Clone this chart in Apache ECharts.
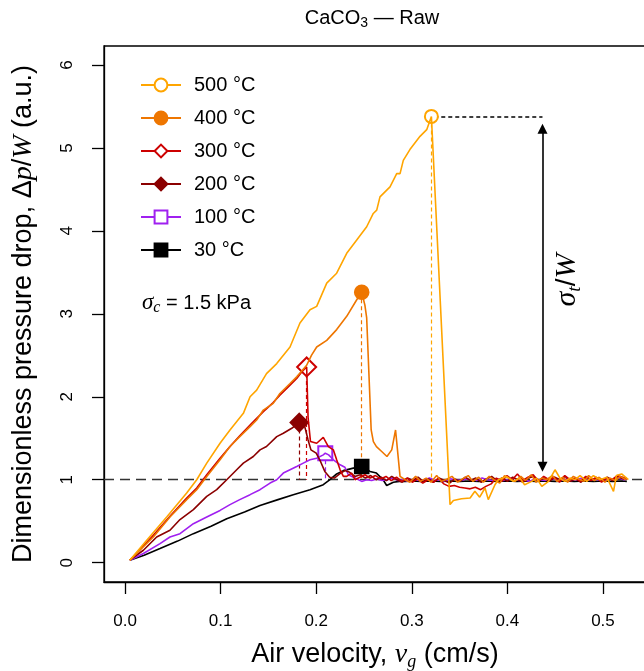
<!DOCTYPE html>
<html><head><meta charset="utf-8">
<script src="https://cdn.jsdelivr.net/npm/echarts@6/dist/echarts.min.js"></script>
<style>html,body{margin:0;padding:0;background:#fff}#c{width:644px;height:671px}</style>
</head><body><div id="c"></div>
<script>
// ---------- data ----------
const xTicks = [0, 0.1, 0.2, 0.3, 0.4, 0.5];
const yTicks = [0, 1, 2, 3, 4, 5, 6];
const names = ['500 °C', '400 °C', '300 °C', '200 °C', '100 °C', '30 °C'];
const colors = ['#FFA500', '#EE7600', '#CD0000', '#8B0000', '#A020F0', '#000000'];
const symbols = ['emptyCircle', 'circle', 'emptyDiamond', 'diamond', 'emptyRect', 'rect'];
const peaks = [[0.3205, 5.38], [0.2476, 3.26], [0.19, 2.36], [0.1823, 1.69], [0.2095, 1.32], [0.2476, 1.16]];
const baseline = 1;
const arrowX = 0.4367, arrowTop = 5.23, arrowBottom = 1.157, dotStartX = 0.3235;

const s500 = [[0.005,0.03],[0.0227,0.27],[0.0436,0.55],[0.0645,0.84],[0.075,1.0],[0.0855,1.2],[0.0994,1.44],[0.1098,1.6],[0.1238,1.8],[0.1308,2.0],[0.1377,2.08],[0.148,2.28],[0.1587,2.4],[0.1726,2.6],[0.183,2.89],[0.1935,3.05],[0.2005,3.09],[0.211,3.37],[0.2214,3.49],[0.2319,3.73],[0.2424,3.89],[0.2528,4.05],[0.2597,4.21],[0.2633,4.25],[0.2667,4.41],[0.2772,4.53],[0.2842,4.69],[0.2877,4.69],[0.2911,4.85],[0.298,4.98],[0.3086,5.14],[0.3156,5.22],[0.3205,5.38],
[0.340,0.70],[0.3435,0.75],[0.352,0.77],[0.361,0.78],[0.366,0.86],[0.371,0.79],[0.3766,0.90],[0.380,0.76],[0.387,0.94],[0.3905,1.0],[0.399,1.04],[0.406,0.98],[0.413,1.02],[0.418,0.94],[0.4254,0.98],[0.4306,1.02],[0.436,0.92],[0.443,0.98],[0.4498,1.12],[0.455,1.02],[0.460,0.98],[0.4655,1.02],[0.471,1.0],[0.476,1.05],[0.483,0.98],[0.490,1.05],[0.497,1.0],[0.504,1.03],[0.511,0.86],[0.514,1.05],[0.5195,1.07],[0.5265,1.0]];

const s400 = [[0.005,0.03],[0.0296,0.31],[0.047,0.55],[0.0645,0.76],[0.075,0.88],[0.0855,1.04],[0.0994,1.24],[0.1098,1.4],[0.12,1.52],[0.1308,1.64],[0.1377,1.72],[0.1447,1.84],[0.155,1.92],[0.162,2.04],[0.1726,2.16],[0.1796,2.24],[0.19,2.38],[0.195,2.5],[0.2005,2.6],[0.211,2.68],[0.2214,2.81],[0.2319,2.97],[0.2424,3.17],[0.2476,3.26],[0.251,3.1],[0.2528,2.95],[0.2575,1.6],[0.2598,1.46],[0.263,1.4],[0.2685,1.34],[0.274,1.28],[0.279,1.36],[0.283,1.6],[0.2877,1.04],
[0.293,1.0],[0.298,0.97],[0.304,1.04],[0.309,0.98],[0.315,1.02],[0.32,0.97],[0.326,1.05],[0.331,0.98],[0.337,1.01],[0.342,1.04],[0.348,0.97],[0.353,1.01],[0.359,1.05],[0.364,0.98],[0.37,1.03],[0.375,0.97],[0.381,1.04],[0.386,1.0],[0.392,0.96],[0.397,1.05],[0.403,1.01],[0.408,0.98],[0.414,1.04],[0.419,0.99],[0.425,1.06],[0.43,0.97],[0.436,1.02],[0.441,1.0],[0.447,1.05],[0.452,0.98],[0.458,1.03],[0.463,0.97],[0.469,1.04],[0.474,1.01],[0.48,0.98],[0.485,1.05],[0.491,0.99],[0.496,1.03],[0.502,0.97],[0.507,1.02],[0.513,0.99],[0.518,1.04],[0.524,1.0]];

const s300 = [[0.005,0.03],[0.0296,0.33],[0.047,0.56],[0.0645,0.78],[0.075,0.9],[0.0855,1.06],[0.0994,1.26],[0.1098,1.4],[0.12,1.53],[0.1308,1.66],[0.1377,1.74],[0.1447,1.82],[0.155,1.93],[0.162,2.02],[0.1726,2.14],[0.1796,2.22],[0.1848,2.3],[0.19,2.36],[0.1915,1.75],[0.194,1.46],[0.2005,1.44],[0.2074,1.51],[0.2127,1.4],[0.2179,1.36],[0.2214,1.24],[0.225,1.12],[0.2284,1.04],[0.2319,1.04],[0.237,1.08],[0.2406,1.0],
[0.2456,1.03],[0.251,1.06],[0.2565,1.02],[0.262,1.05],[0.2675,1.01],[0.273,1.04],[0.2785,0.99],[0.284,1.03],[0.2895,0.98],[0.295,1.02],[0.3005,0.97],[0.306,1.01],[0.3115,0.96],[0.317,1.0],[0.3225,0.97],[0.328,1.02],[0.3335,0.95],[0.339,0.92],[0.3445,0.93],[0.35,0.91],[0.3555,0.9],[0.361,0.89],[0.3665,0.91],[0.372,0.88],[0.3775,0.92],[0.383,0.95],[0.3885,1.02],[0.394,0.98],[0.3995,1.05],[0.405,1.0],[0.4105,1.07],[0.416,0.99],[0.4215,1.03],[0.427,1.06],[0.4325,0.98],[0.438,1.04],[0.4435,1.0],[0.449,1.03],[0.4545,0.97],[0.46,1.05],[0.4655,1.0],[0.471,1.02],[0.4765,0.98],[0.482,1.04],[0.4875,0.99],[0.493,1.03],[0.4985,0.97],[0.504,1.02],[0.5095,1.0],[0.515,1.05],[0.5205,1.03],[0.525,1.01]];

const s200 = [[0.005,0.03],[0.0192,0.15],[0.0331,0.31],[0.047,0.39],[0.0575,0.52],[0.0715,0.64],[0.0855,0.8],[0.0959,0.88],[0.1064,1.0],[0.1168,1.12],[0.1238,1.2],[0.1342,1.28],[0.1412,1.36],[0.148,1.4],[0.1587,1.52],[0.1656,1.56],[0.1744,1.62],[0.1823,1.69],[0.188,1.64],[0.1915,1.48],[0.1945,1.36],[0.2,1.32],[0.2045,1.22],[0.209,1.1],[0.214,1.03],[0.219,1.02],[0.2245,1.07],[0.23,1.11],[0.235,1.09],
[0.2405,1.04],[0.246,1.06],[0.2515,1.02],[0.257,1.05],[0.2625,1.0],[0.268,1.03],[0.2735,0.99],[0.279,1.04],[0.2845,1.0],[0.29,0.97],[0.2955,1.02],[0.301,0.99],[0.3065,1.03],[0.312,0.98],[0.3175,1.01],[0.323,0.97],[0.3285,1.02],[0.334,0.99],[0.3395,0.96],[0.345,1.01],[0.3505,0.98],[0.356,1.03],[0.3615,0.99],[0.367,1.02],[0.3725,0.97],[0.378,1.01],[0.3835,1.04],[0.389,0.99],[0.3945,1.02],[0.4,0.98],[0.4055,1.03],[0.411,1.0],[0.4165,0.97],[0.422,1.02],[0.4275,1.04],[0.433,0.99],[0.4385,1.02],[0.444,0.98],[0.4495,1.03],[0.455,1.0],[0.4605,1.04],[0.466,0.98],[0.4715,1.01],[0.477,0.97],[0.4825,1.03],[0.488,1.0],[0.4935,1.02],[0.499,0.98],[0.5045,1.03],[0.51,0.99],[0.5155,1.04],[0.521,1.01],[0.525,1.02]];

const s100 = [[0.005,0.03],[0.0192,0.11],[0.0366,0.23],[0.047,0.31],[0.0575,0.35],[0.0715,0.47],[0.0855,0.55],[0.0994,0.63],[0.1098,0.7],[0.12,0.76],[0.1308,0.82],[0.1412,0.88],[0.1517,0.96],[0.1587,1.0],[0.1656,1.08],[0.1726,1.12],[0.1796,1.16],[0.1865,1.2],[0.1935,1.24],[0.2005,1.26],[0.2074,1.3],[0.2095,1.32],[0.213,1.3],[0.218,1.24],[0.225,1.18],[0.23,1.15],[0.2336,1.06],[0.2406,1.02],[0.2476,0.98],[0.2528,1.0],
[0.258,0.99],[0.2635,1.01],[0.269,0.99],[0.2745,1.0],[0.28,1.02],[0.2855,0.99],[0.291,1.0],[0.2965,0.98],[0.302,1.01],[0.3075,0.99],[0.313,1.0],[0.3185,1.02],[0.324,0.99],[0.3295,1.0],[0.335,0.98],[0.3405,1.01],[0.346,1.0],[0.3515,0.99],[0.357,1.01],[0.3625,1.0],[0.368,0.99],[0.3735,1.02],[0.379,1.0],[0.3845,0.99],[0.39,1.01],[0.3955,0.99],[0.401,1.0],[0.4065,1.02],[0.412,0.99],[0.4175,1.0],[0.423,0.98],[0.4285,1.01],[0.434,1.0],[0.4395,0.99],[0.445,1.02],[0.4505,1.0],[0.456,0.99],[0.4615,1.01],[0.467,0.99],[0.4725,1.0],[0.478,1.02],[0.4835,0.99],[0.489,1.01],[0.4945,1.0],[0.5,0.99],[0.5055,1.01],[0.511,1.0],[0.5165,1.02],[0.522,1.0],[0.525,1.01]];

const s30 = [[0.005,0.03],[0.02,0.09],[0.0366,0.17],[0.055,0.26],[0.0715,0.35],[0.09,0.44],[0.1064,0.53],[0.125,0.61],[0.1412,0.69],[0.16,0.76],[0.176,0.82],[0.1935,0.88],[0.2074,0.94],[0.2144,1.0],[0.2214,1.07],[0.2284,1.11],[0.2388,1.14],[0.2476,1.16],[0.2563,1.1],[0.263,1.08],[0.27,1.0],[0.2737,0.93],[0.2807,0.97],
[0.287,0.98],[0.2935,0.98],[0.3,0.985],[0.31,0.98],[0.32,0.985],[0.33,0.98],[0.34,0.985],[0.35,0.98],[0.36,0.985],[0.37,0.98],[0.38,0.985],[0.39,0.98],[0.4,0.985],[0.41,0.98],[0.42,0.985],[0.43,0.98],[0.44,0.985],[0.45,0.98],[0.46,0.985],[0.47,0.98],[0.48,0.985],[0.49,0.98],[0.5,0.985],[0.51,0.98],[0.52,0.985],[0.525,0.98]];

const seriesData = [s500, s400, s300, s200, s100, s30];
const markerSizes = [13, 14, 19, 18, 14, 14];

// ---------- chart ----------
const F = 'Liberation Sans';
const FS = 'Liberation Serif';
const chart = echarts.init(document.getElementById('c'), null, {renderer: 'canvas'});

const series = [];
for (let k = seriesData.length - 1; k >= 0; k--) {
  const col = colors[k];
  const s = {
    type: 'line', name: names[k], data: seriesData[k],
    showSymbol: false, symbol: symbols[k], symbolSize: markerSizes[k],
    lineStyle: {color: col, width: 1.6},
    itemStyle: {color: col, borderColor: col, borderWidth: 1.6},
    emphasis: {disabled: true},
    z: 10 + (6 - k),
    markPoint: {
      symbol: symbols[k], symbolSize: markerSizes[k], silent: true,
      itemStyle: {color: col, borderColor: col, borderWidth: 1.6},
      label: {show: false},
      data: [{coord: peaks[k]}]
    },
    markLine: {
      symbol: 'none', silent: true, animation: false,
      label: {show: false},
      lineStyle: {color: col, type: [4, 3], width: 1.2},
      data: [[{coord: peaks[k]}, {coord: [peaks[k][0], baseline]}]]
    }
  };
  if (k === 5) {
    s.markLine.data.push({yAxis: baseline, lineStyle: {color: '#333', type: [10, 6], width: 1.3}});
  }
  if (k === 0) {
    s.markLine.data.push([{coord: [dotStartX, peaks[0][1]], lineStyle: {color: '#000', type: [4, 3], width: 1.6}}, {coord: [arrowX, peaks[0][1]]}]);
    s.markLine.data.push([
      {coord: [arrowX, arrowTop], symbol: 'triangle', symbolSize: 10, lineStyle: {color: '#000', type: 'solid', width: 1.6}},
      {coord: [arrowX, arrowBottom], symbol: 'triangle', symbolSize: 10}
    ]);
    s.markLine.itemStyle = {color: '#000'};
  }
  series.push(s);
}

const rich = {
  n: {fontSize: 27, fontFamily: F, color: '#000', lineHeight: 32},
  i: {fontSize: 28, fontFamily: FS, fontStyle: 'italic', color: '#000', lineHeight: 32},
  s: {fontSize: 18, fontFamily: FS, fontStyle: 'italic', color: '#000', lineHeight: 14, verticalAlign: 'bottom'}
};

chart.setOption({
  animation: false,
  backgroundColor: '#fff',
  grid: {left: 104, top: 46, right: -2, bottom: 89, show: true, borderColor: '#000', borderWidth: 1.3, backgroundColor: 'transparent', containLabel: false, outerBoundsMode: 'none'},
  xAxis: {
    type: 'value', min: -0.022, max: 0.545,
    axisLine: {show: true, onZero: false, lineStyle: {color: '#000', width: 1.3}}, splitLine: {show: false},
    axisTick: {show: true, inside: false, customValues: xTicks, length: 12, lineStyle: {color: '#000', width: 1.3}},
    axisLabel: {customValues: xTicks, formatter: v => v.toFixed(1), fontSize: 17, fontFamily: F, color: '#000', margin: 31},
    name: '{n|Air velocity, }{i|v}{s|g}{n| (cm/s)}', nameLocation: 'middle', nameGap: 57,
    nameTextStyle: {rich: rich}
  },
  yAxis: {
    type: 'value', min: -0.233, max: 6.229,
    axisLine: {show: true, onZero: false, lineStyle: {color: '#000', width: 1.3}}, splitLine: {show: false},
    axisTick: {show: true, inside: false, customValues: yTicks, length: 12, lineStyle: {color: '#000', width: 1.3}},
    axisLabel: {customValues: yTicks, formatter: v => String(v), rotate: 90, fontSize: 17, fontFamily: F, color: '#000', margin: 28},
    name: '{n|Dimensionless pressure drop, Δ}{i|p}{n|/}{i|W}{n| (a.u.)}', nameLocation: 'middle', nameRotate: 90, nameGap: 64,
    nameTextStyle: {rich: rich}
  },
  legend: {
    data: names, orient: 'vertical', left: 135, top: 70,
    itemWidth: 40, itemHeight: 16, itemGap: 13,
    textStyle: {fontSize: 20, fontFamily: F, color: '#000', lineHeight: 20, padding: [0, 0, 0, 8]},
    selectedMode: false
  },
  graphic: [
    {type: 'text', x: 372, y: 18, style: {text: '{n|CaCO}{s|3}{n| — Raw}', align: 'center', verticalAlign: 'middle',
      rich: {n: {fontSize: 20, fontFamily: F, color: '#000', lineHeight: 24}, s: {fontSize: 14, fontFamily: F, color: '#000', lineHeight: 11, verticalAlign: 'bottom'}}}},
    {type: 'text', x: 142, y: 303, style: {text: '{i|σ}{s|c}{n| = 1.5 kPa}', align: 'left', verticalAlign: 'middle',
      rich: {n: {fontSize: 20, fontFamily: F, color: '#000', lineHeight: 26}, i: {fontSize: 23, fontFamily: FS, fontStyle: 'italic', color: '#000', lineHeight: 26}, s: {fontSize: 16, fontFamily: FS, fontStyle: 'italic', color: '#000', lineHeight: 12, verticalAlign: 'bottom'}}}},
    {type: 'text', x: 567, y: 280, rotation: Math.PI / 2, style: {text: '{i|σ}{s|t}{n|/}{i|W}', align: 'center', verticalAlign: 'middle',
      rich: {n: {fontSize: 28, fontFamily: F, color: '#000', lineHeight: 34}, i: {fontSize: 30, fontFamily: FS, fontStyle: 'italic', color: '#000', lineHeight: 34}, s: {fontSize: 19, fontFamily: FS, fontStyle: 'italic', color: '#000', lineHeight: 14, verticalAlign: 'bottom'}}}}
  ],
  series: series
});
</script></body></html>
